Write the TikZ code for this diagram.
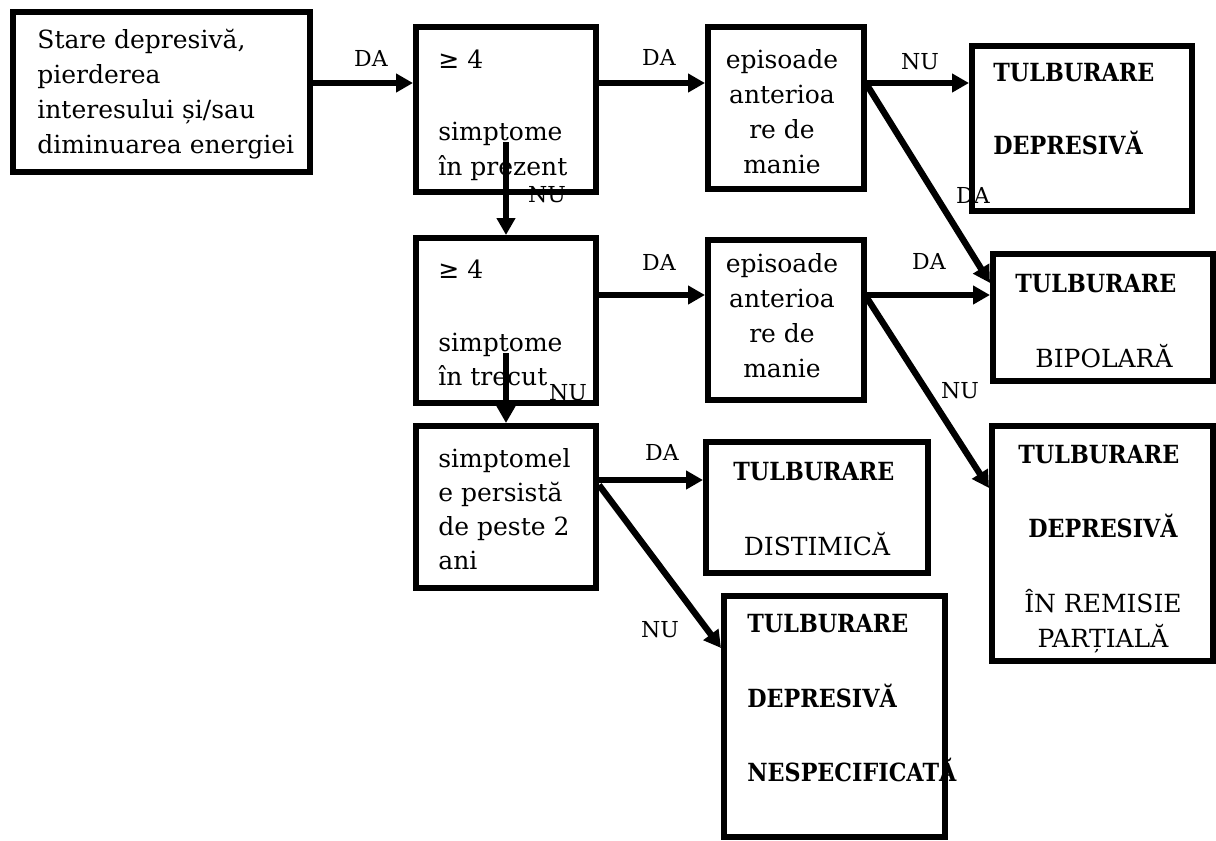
\documentclass[tikz,border=0pt]{standalone}
\usepackage{fontspec}
\setmainfont{DejaVu Serif}
\newfontfamily\symf{DejaVu Sans}
\newfontfamily\capf{DejaVu Serif}[FakeStretch=0.89]
\usetikzlibrary{arrows.meta}
\tikzset{
  box/.style={draw, line width=3.2pt, rectangle, inner sep=0pt},
  txt/.style={inner sep=0pt, font=\fontsize{12.5pt}{14pt}\selectfont},
  tl/.style={txt, anchor=base west},
  tc/.style={txt, anchor=base},
  bl/.style={inner sep=0pt, anchor=base west, font=\capf\fontsize{12.5pt}{14pt}\selectfont\bfseries},
  bc/.style={inner sep=0pt, anchor=base, font=\capf\fontsize{12.5pt}{14pt}\selectfont\bfseries},
  lbl/.style={inner sep=0pt, anchor=base, font=\fontsize{11pt}{13pt}\selectfont},
  arr/.style={line width=3.2pt, -{Triangle[length=8.5pt,width=9pt]}},
}
\begin{document}
\begin{tikzpicture}[x=0.5pt,y=-0.5pt]
\useasboundingbox (0,0) rectangle (1216,841);
% boxes
\node[box, minimum width=148.3pt, minimum height=79.8pt] (A) at (161.5,92) {};
\node[box, minimum width=89.8pt, minimum height=82.3pt] (B) at (506,109.5) {};
\node[box, minimum width=77.8pt, minimum height=80.8pt] (C) at (786,108) {};
\node[box, minimum width=109.8pt, minimum height=82.3pt] (D) at (1082,128.5) {};
\node[box, minimum width=89.8pt, minimum height=82.3pt] (E) at (506,320.5) {};
\node[box, minimum width=77.8pt, minimum height=79.8pt] (F) at (786,320) {};
\node[box, minimum width=109.8pt, minimum height=63.3pt] (G) at (1103,317.5) {};
\node[box, minimum width=89.8pt, minimum height=80.8pt] (H) at (506,507) {};
\node[box, minimum width=110.8pt, minimum height=65.3pt] (I) at (817,507.5) {};
\node[box, minimum width=110.3pt, minimum height=120.3pt] (J) at (834.5,716.5) {};
\node[box, minimum width=110.3pt, minimum height=117.3pt] (K) at (1102.5,543.5) {};
% texts
\node[tl] (a1) at (37,48) {Stare depresivă,};
\node[tl] (a2) at (37,83) {pierderea};
\node[tl] (a3) at (37,118) {interesului și/sau};
\node[tl] (a4) at (37,153) {diminuarea energiei};
\node[tl] (b1) at (438,68) {{\symf ≥} 4};
\node[tl] (b2) at (438,140) {simptome};
\node[tl] (b3) at (438,175) {în prezent};
\node[tc] (c1) at (782,68) {episoade};
\node[tc] (c2) at (782,103) {anterioa};
\node[tc] (c3) at (782,138) {re de};
\node[tc] (c4) at (782,173) {manie};
\node[bl] (d1) at (993,81) {TULBURARE};
\node[bl] (d2) at (993,154) {DEPRESIVĂ};
\node[tl] (e1) at (438,278) {{\symf ≥} 4};
\node[tl] (e2) at (438,351) {simptome};
\node[tl] (e3) at (438,385) {în trecut};
\node[tc] (f1) at (782,272) {episoade};
\node[tc] (f2) at (782,307) {anterioa};
\node[tc] (f3) at (782,342) {re de};
\node[tc] (f4) at (782,377) {manie};
\node[bl] (g1) at (1015,292) {TULBURARE};
\node[tc] (g2) at (1104,367) {BIPOLARĂ};
\node[tl] (h1) at (438,467) {simptomel};
\node[tl] (h2) at (438,501) {e persistă};
\node[tl] (h3) at (438,535) {de peste 2};
\node[tl] (h4) at (438,569) {ani};
\node[bl] (i1) at (733,480) {TULBURARE};
\node[tc] (i2) at (817,555) {DISTIMICĂ};
\node[bl] (j1) at (747,632) {TULBURARE};
\node[bl] (j2) at (747,707) {DEPRESIVĂ};
\node[bl] (j3) at (747,781) {NESPECIFICATĂ};
\node[bl] (k1) at (1018,463) {TULBURARE};
\node[bc] (k2) at (1103,537) {DEPRESIVĂ};
\node[tc] (k3) at (1103,612) {ÎN REMISIE};
\node[tc] (k4) at (1103,647) {PARȚIALĂ};
% connectors
\draw[arr] (A.east |- 0,83) -- (B.west |- 0,83);
\draw[arr] (B.east |- 0,83) -- (C.west |- 0,83);
\draw[arr] (C.east |- 0,83) -- (D.west |- 0,83);
\draw[arr] (C.east |- 0,85) -- (G.west |- 0,283);
\draw[arr] (B.center |- 0,142) -- (E.north);
\draw[arr] (E.east |- 0,295) -- (F.west |- 0,295);
\draw[arr] (F.east |- 0,295) -- (G.west |- 0,295);
\draw[arr] (F.east |- 0,298) -- (K.west |- 0,488);
\draw[arr] (E.center |- 0,353) -- (H.north);
\draw[arr] (H.east |- 0,480) -- (I.west |- 0,480);
\draw[arr] (H.east |- 0,485) -- (J.west |- 0,648);
% labels
\node[lbl] (l1) at (371,66) {DA};
\node[lbl] (l2) at (659,65) {DA};
\node[lbl] (l3) at (920,69) {NU};
\node[lbl] (l4) at (973,203) {DA};
\node[lbl] (l5) at (547,202) {NU};
\node[lbl] (l6) at (659,270) {DA};
\node[lbl] (l7) at (929,269) {DA};
\node[lbl] (l8) at (960,398) {NU};
\node[lbl] (l9) at (568,400) {NU};
\node[lbl] (l10) at (662,460) {DA};
\node[lbl] (l11) at (660,637) {NU};
\end{tikzpicture}
\end{document}
